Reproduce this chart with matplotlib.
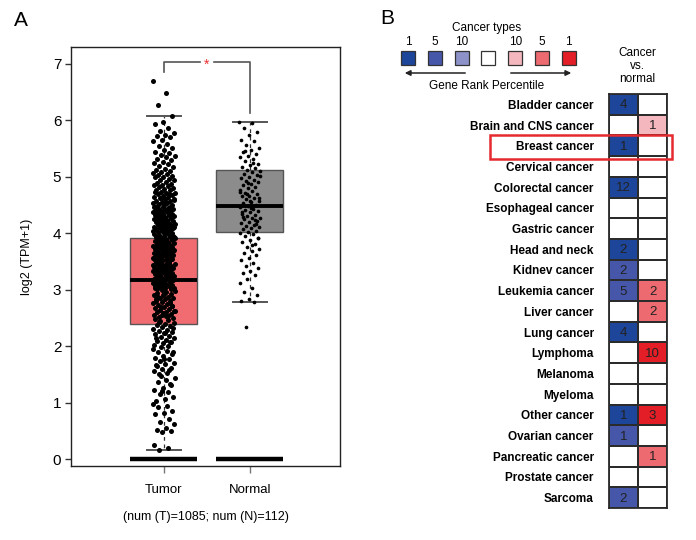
import matplotlib
matplotlib.use("Agg")
import matplotlib.pyplot as plt
import numpy as np
from matplotlib.colors import ListedColormap
from matplotlib.patches import Rectangle

plt.rcParams["font.family"] = ["Liberation Sans Narrow", "Liberation Sans", "DejaVu Sans"]

# ---- panel A data ----
groups = ["Tumor", "Normal"]
n_label = "(num (T)=1085; num (N)=112)"

# box summary: whislo, q1, med, q3, whishi
tumor_stats = [0.17, 2.40, 3.18, 3.91, 6.07]
normal_stats = [2.78, 4.02, 4.48, 5.12, 5.97]

tumor_points = [
    6.70, 6.48, 6.27, 6.07,
    5.98, 5.93, 5.86, 5.82, 5.77, 5.75, 5.72, 5.70, 5.66, 5.63, 5.58, 5.55, 5.51,
    5.48, 5.44, 5.43, 5.39, 5.37, 5.35, 5.31, 5.30, 5.27, 5.24, 5.23, 5.19, 5.18,
    5.14, 5.13, 5.11, 5.08, 5.07, 5.05, 5.03, 5.01, 5.00,
    4.99, 4.97, 4.95, 4.94, 4.91, 4.90, 4.88, 4.86, 4.85, 4.83, 4.82, 4.80, 4.79,
    4.77, 4.76, 4.74, 4.72, 4.71, 4.70, 4.68, 4.67, 4.65, 4.64, 4.62, 4.61, 4.60,
    4.58, 4.57, 4.56, 4.54, 4.53, 4.52, 4.51, 4.50, 4.73, 4.69, 4.63, 4.59, 4.55,
    4.49, 4.48, 4.47, 4.46, 4.45, 4.44, 4.43, 4.42, 4.41, 4.40, 4.39, 4.38, 4.37,
    4.36, 4.35, 4.34, 4.33, 4.32, 4.31, 4.30, 4.29, 4.28, 4.27, 4.26, 4.25, 4.24,
    4.23, 4.22, 4.21, 4.20, 4.19, 4.18, 4.17, 4.16, 4.15, 4.14, 4.13, 4.12, 4.11,
    4.10, 4.09, 4.08, 4.07, 4.06, 4.05, 4.04, 4.03, 4.02, 4.01, 4.00, 4.46, 4.33,
    4.21, 4.12, 4.05, 4.38, 4.27, 4.16,
    3.99, 3.98, 3.97, 3.96, 3.95, 3.94, 3.93, 3.92, 3.91, 3.90, 3.89, 3.88, 3.87,
    3.86, 3.85, 3.84, 3.83, 3.82, 3.81, 3.80, 3.79, 3.78, 3.77, 3.76, 3.75, 3.74,
    3.73, 3.72, 3.71, 3.70, 3.69, 3.68, 3.67, 3.66, 3.65, 3.64, 3.63, 3.62, 3.61,
    3.60, 3.59, 3.58, 3.57, 3.56, 3.55, 3.54, 3.53, 3.52, 3.51, 3.50, 3.93, 3.86,
    3.78, 3.71, 3.64, 3.57, 3.52, 3.83, 3.68, 3.61,
    3.49, 3.48, 3.47, 3.46, 3.45, 3.44, 3.43, 3.42, 3.41, 3.40, 3.39, 3.38, 3.37,
    3.36, 3.35, 3.34, 3.33, 3.32, 3.31, 3.30, 3.29, 3.28, 3.27, 3.26, 3.25, 3.24,
    3.23, 3.22, 3.21, 3.20, 3.19, 3.18, 3.17, 3.16, 3.15, 3.14, 3.13, 3.12, 3.11,
    3.10, 3.09, 3.08, 3.07, 3.06, 3.05, 3.04, 3.03, 3.02, 3.01, 3.00, 3.44, 3.36,
    3.27, 3.19, 3.11, 3.04, 3.31, 3.15,
    2.98, 2.96, 2.95, 2.93, 2.91, 2.90, 2.88, 2.86, 2.85, 2.83, 2.81, 2.80, 2.78,
    2.76, 2.75, 2.73, 2.71, 2.70, 2.68, 2.66, 2.65, 2.63, 2.61, 2.60, 2.58, 2.56,
    2.55, 2.53, 2.51, 2.50, 2.92, 2.84, 2.77, 2.69, 2.62, 2.54, 2.87, 2.72, 2.59,
    2.48, 2.46, 2.44, 2.42, 2.40, 2.38, 2.36, 2.34, 2.31, 2.29, 2.27, 2.25, 2.23,
    2.21, 2.18, 2.16, 2.14, 2.12, 2.10, 2.07, 2.05, 2.03, 2.01, 2.43, 2.33, 2.24,
    2.15, 2.08,
    1.98, 1.95, 1.92, 1.89, 1.86, 1.83, 1.80, 1.77, 1.74, 1.71, 1.68, 1.65, 1.62,
    1.59, 1.56, 1.53, 1.51, 1.90, 1.78, 1.66, 1.58,
    1.48, 1.44, 1.40, 1.36, 1.31, 1.27, 1.23, 1.19, 1.15, 1.11, 1.07, 1.03, 1.34,
    1.21,
    0.97, 0.95, 0.92, 0.86, 0.81, 0.80, 0.72, 0.66, 0.63, 0.55, 0.52, 0.50, 0.48,
    0.26, 0.19, 0.17,
]

normal_points = [
    5.97, 5.95, 5.86, 5.80, 5.74, 5.66, 5.63, 5.56, 5.51, 5.47, 5.44, 5.41, 5.37,
    5.35, 5.31, 5.28, 5.23, 5.21, 5.17, 5.15, 5.12, 5.10, 5.08, 5.05, 5.03, 5.00,
    4.98, 4.95, 4.93, 4.91, 4.87, 4.85, 4.82, 4.80, 4.77, 4.75, 4.72, 4.70, 4.67,
    4.66, 4.63, 4.60, 4.58, 4.55, 4.53, 4.50, 4.48, 4.46, 4.44, 4.41, 4.40, 4.37,
    4.35, 4.33, 4.31, 4.28, 4.27, 4.25, 4.22, 4.20, 4.18, 4.15, 4.13, 4.11, 4.09,
    4.07, 4.05, 4.03, 4.01, 3.98, 3.95, 3.91, 3.88, 3.84, 3.81, 3.76, 3.73, 3.69,
    3.66, 3.61, 3.57, 3.52, 3.47, 3.43, 3.38, 3.34, 3.30, 3.26, 3.19, 3.12, 3.04,
    2.97, 2.91, 2.83, 2.80, 2.78, 2.34, 4.62, 4.45, 4.29, 4.16, 4.89, 4.73, 5.25,
    5.45, 3.92, 4.57, 4.38, 4.24, 4.69, 5.02, 3.79,
]

# ---- panel B data ----
cancer_types = [
    "Bladder cancer", "Brain and CNS cancer", "Breast cancer", "Cervical cancer",
    "Colorectal cancer", "Esophageal cancer", "Gastric cancer", "Head and neck",
    "Kidnev cancer", "Leukemia cancer", "Liver cancer", "Lung cancer", "Lymphoma",
    "Melanoma", "Myeloma", "Other cancer", "Ovarian cancer", "Pancreatic cancer",
    "Prostate cancer", "Sarcoma",
]
# best gene rank percentile (0 = none) and number of analyses
under_rank = [1, 0, 1, 0, 1, 0, 0, 1, 5, 5, 0, 1, 0, 0, 0, 1, 5, 0, 0, 5]
under_count = [4, 0, 1, 0, 12, 0, 0, 2, 2, 5, 0, 4, 0, 0, 0, 1, 1, 0, 0, 2]
over_rank = [0, 10, 0, 0, 0, 0, 0, 0, 0, 5, 5, 0, 1, 0, 0, 1, 0, 5, 0, 0]
over_count = [0, 1, 0, 0, 0, 0, 0, 0, 0, 2, 2, 0, 10, 0, 0, 3, 0, 1, 0, 0]
legend_levels = ["1", "5", "10", "", "10", "5", "1"]

blue = {1: "#1d4599", 5: "#4657a9", 10: "#8d93c9"}
red = {10: "#f4b7be", 5: "#ec6a70", 1: "#e31e26"}
legend_colors = ["#1d4599", "#4657a9", "#8d93c9", "#ffffff", "#f4b7be", "#ec6a70", "#e31e26"]

fig = plt.figure(figsize=(6.96, 5.4), dpi=100)
W, H = 696, 540

# ---------------- panel A ----------------
ax = fig.add_axes([71 / W, 1 - 466 / H, (340 - 71) / W, (466 - 47) / H])
pos = [1, 2]
bw = 0.78
stats = []
for s, name in zip([tumor_stats, normal_stats], groups):
    stats.append(dict(whislo=s[0], q1=s[1], med=s[2], q3=s[3], whishi=s[4], fliers=[], label=name))
bp = ax.bxp(stats, positions=pos, widths=bw, patch_artist=True, showfliers=False,
            boxprops=dict(edgecolor="#555555", linewidth=1.0),
            medianprops=dict(color="black", linewidth=2.8),
            whiskerprops=dict(color="#333333", linewidth=0.9, linestyle=(0, (3, 3))),
            capprops=dict(color="#555555", linewidth=1.4), capwidths=0.39)
for patch, col in zip(bp["boxes"], ["#f06c71", "#8c8c8c"]):
    patch.set_facecolor(col)
    patch.set_zorder(1)

# zero baseline bars
for p in pos:
    ax.hlines(0, p - bw / 2, p + bw / 2, color="black", linewidth=3.2, zorder=3)

# jittered points
for p, vals, spread, size in [(1, tumor_points, 0.13, 13), (2, normal_points, 0.12, 7)]:
    vals = np.array(vals)
    jit = ((np.arange(len(vals)) * 0.6180339887) % 1 - 0.5) * 2 * spread
    ax.scatter(p + jit, vals, s=size, color="black", linewidths=0, zorder=4)

# significance bracket
ax.plot([1, 1, 1.42], [6.86, 7.03, 7.03], color="#555555", lw=1.2, zorder=2)
ax.plot([1.58, 2, 2], [7.03, 7.03, 6.13], color="#555555", lw=1.2, zorder=2)
ax.text(1.5, 6.99, "*", color="#e8302f", ha="center", va="center", fontsize=10)

ax.set_xlim(-0.08, 3.05)
ax.set_ylim(-0.12, 7.3)
ax.set_yticks(range(0, 8))
ax.set_xticks(pos)
ax.set_xticklabels(groups)
ax.tick_params(axis="y", labelsize=11, length=4, width=1, color="#333333", pad=3)
ax.tick_params(axis="x", labelsize=9.5, length=5, width=1, color="#777777", pad=8)
ax.set_xlabel(n_label, fontsize=9, labelpad=11)
ax.set_ylabel("log2 (TPM+1)", fontsize=9, labelpad=14)
for sp in ax.spines.values():
    sp.set_color("#222222")
    sp.set_linewidth(1.0)

# ---------------- panel B: heatmap ----------------
hx = fig.add_axes([609 / W, 1 - 508 / H, (667 - 609) / W, (508 - 94) / H])
under_code = [{0: 0, 1: 1, 5: 2, 10: 3}[r] for r in under_rank]
over_code = [{0: 0, 10: 4, 5: 5, 1: 6}[r] for r in over_rank]
mat = np.array([under_code, over_code]).T
cmap = ListedColormap(["#ffffff", blue[1], blue[5], blue[10], red[10], red[5], red[1]])
hx.pcolormesh(mat, cmap=cmap, vmin=-0.5, vmax=6.5, edgecolors="#2b2b2b", linewidth=1.3)
hx.set_xlim(0, 2)
hx.set_ylim(len(cancer_types), 0)
for i in range(len(cancer_types)):
    for j, cnt in enumerate([under_count[i], over_count[i]]):
        if cnt:
            hx.text(j + 0.5, i + 0.55, str(cnt), ha="center", va="center", fontsize=9.5, color="#222222")
hx.set_xticks([])
hx.set_yticks(np.arange(len(cancer_types)) + 0.5)
hx.set_yticklabels(cancer_types, fontsize=8.5, fontweight="bold")
hx.tick_params(axis="y", length=0, pad=11)
for sp in hx.spines.values():
    sp.set_color("#2b2b2b")
    sp.set_linewidth(1.3)

# ---------------- overlay for legend / labels ----------------
ov = fig.add_axes([0, 0, 1, 1])
ov.set_xlim(0, W)
ov.set_ylim(H, 0)
ov.set_axis_off()

ov.text(14, 20, "A", fontsize=15, ha="left", va="center")
ov.text(380, 18, "B", fontsize=15, ha="left", va="center")

ov.text(487, 28, "Cancer types", fontsize=8.5, ha="center", va="center")
x0, step, sq = 401, 26.8, 14
for k, (lab, col) in enumerate(zip(legend_levels, legend_colors)):
    xl = x0 + k * step
    ov.add_patch(Rectangle((xl, 51), sq, sq, facecolor=col, edgecolor="#333333", lw=0.9))
    ov.text(xl + sq / 2, 42, lab, fontsize=8.5, ha="center", va="center")
ov.annotate("", xy=(402, 73), xytext=(468, 73),
            arrowprops=dict(arrowstyle="-|>", color="#222222", lw=1.1, mutation_scale=8))
ov.annotate("", xy=(574, 73), xytext=(508, 73),
            arrowprops=dict(arrowstyle="-|>", color="#222222", lw=1.1, mutation_scale=8))
ov.text(487, 86, "Gene Rank Percentile", fontsize=8.5, ha="center", va="center")
ov.text(637, 66, "Cancer\nvs.\nnormal", fontsize=8.5, ha="center", va="center", linespacing=1.15)

ov.add_patch(Rectangle((490, 135), 182, 24, facecolor="none", edgecolor="#e52a2f", lw=1.8))

fig.savefig("out.png", dpi=100)
